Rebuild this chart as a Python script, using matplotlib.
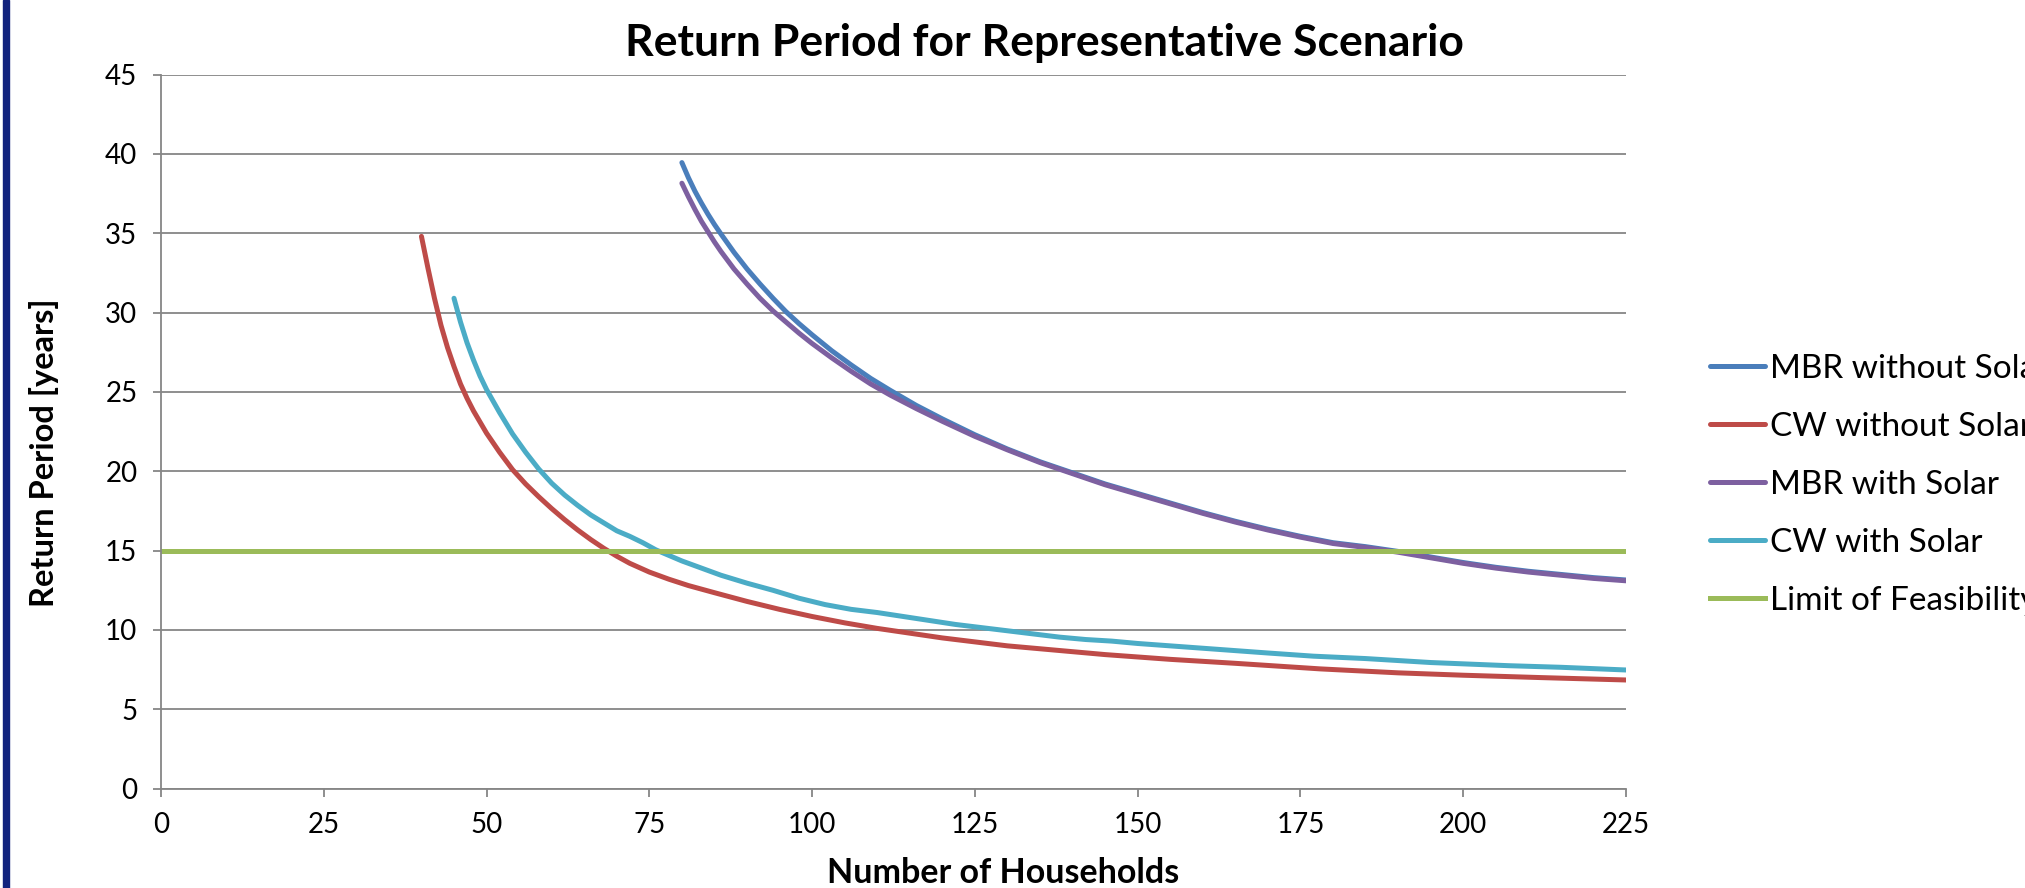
import matplotlib
matplotlib.use("Agg")
import matplotlib.pyplot as plt
from matplotlib.patches import Rectangle

plt.rcParams['font.family'] = ['Lato', 'DejaVu Sans']

# Return period [years] vs number of households
mbr_x = [80, 81, 82, 83, 84, 85, 86, 88, 90, 92, 94, 96, 98, 100, 103, 106, 109, 112, 116, 120,
         125, 130, 135, 140, 145, 150, 155, 160, 165, 170, 175, 180, 185, 190, 195, 200, 205, 210,
         215, 220, 225]
mbr_no_solar = [39.45, 38.5, 37.65, 36.9, 36.2, 35.55, 34.95, 33.8, 32.75, 31.8, 30.9, 30.05, 29.3,
                28.6, 27.6, 26.7, 25.85, 25.1, 24.15, 23.3, 22.3, 21.4, 20.6, 19.9, 19.2, 18.6, 18.0,
                17.4, 16.85, 16.35, 15.9, 15.5, 15.25, 14.95, 14.6, 14.25, 13.95, 13.7, 13.5, 13.3,
                13.15]
mbr_solar = [38.15, 37.3, 36.5, 35.75, 35.1, 34.45, 33.85, 32.75, 31.8, 30.9, 30.1, 29.4, 28.7,
             28.05, 27.15, 26.3, 25.5, 24.8, 23.95, 23.15, 22.2, 21.35, 20.55, 19.85, 19.15, 18.55,
             17.95, 17.35, 16.8, 16.3, 15.85, 15.45, 15.2, 14.9, 14.55, 14.2, 13.9, 13.65, 13.45,
             13.25, 13.1]

cw_x = [40, 41, 42, 43, 44, 45, 46, 47, 48, 50, 52, 54, 56, 58, 60, 62, 64, 66, 68, 70, 72, 75, 78,
        81, 85, 90, 95, 100, 105, 110, 115, 120, 125, 130, 136, 145, 155, 165, 178, 190, 200, 212, 225]
cw_no_solar = [34.8, 32.8, 30.9, 29.2, 27.8, 26.6, 25.5, 24.6, 23.8, 22.4, 21.2, 20.1, 19.2, 18.4,
               17.65, 16.95, 16.3, 15.7, 15.15, 14.65, 14.2, 13.65, 13.2, 12.8, 12.35, 11.8, 11.3,
               10.85, 10.45, 10.1, 9.8, 9.5, 9.25, 9.0, 8.78, 8.45, 8.15, 7.9, 7.55, 7.3, 7.15, 7.0,
               6.85]

cws_x = [45, 46, 47, 48, 49, 50, 52, 54, 56, 58, 60, 62, 64, 66, 68, 70, 72, 74, 76, 78, 80, 83, 86,
         90, 94, 98, 102, 106, 110, 114, 118, 122, 126, 130, 134, 138, 142, 146, 150, 160, 170, 177,
         185, 195, 207, 215, 225]
cw_solar = [30.9, 29.4, 28.1, 27.0, 26.0, 25.15, 23.7, 22.35, 21.2, 20.15, 19.25, 18.5, 17.85, 17.25,
            16.75, 16.25, 15.9, 15.5, 15.05, 14.7, 14.35, 13.9, 13.45, 12.95, 12.5, 12.0, 11.6, 11.3,
            11.1, 10.85, 10.6, 10.35, 10.15, 9.95, 9.75, 9.55, 9.4, 9.3, 9.15, 8.85, 8.55, 8.35, 8.2,
            7.95, 7.75, 7.65, 7.48]

limit_x = [0, 225]
limit_y = [15, 15]

labels = ["MBR without Solar", "CW without Solar", "MBR with Solar", "CW with Solar", "Limit of Feasibility"]
colors = ["#4a7ebb", "#be4b48", "#7d60a0", "#4bacc6", "#9bbb59"]

W, H = 2025, 888
fig = plt.figure(figsize=(W / 100, H / 100), dpi=100)
fig.patches.append(Rectangle((3 / W, 0), 6 / W, 1, transform=fig.transFigure,
                             color="#12237d", zorder=0))

ax = fig.add_axes([161 / W, 1 - 788.7 / H, (1626 - 161) / W, (788.7 - 74.5) / H])
grey = "#868686"
lw = 3.6
ax.plot(mbr_x, mbr_no_solar, color=colors[0], lw=lw, solid_capstyle="round",
        solid_joinstyle="round", label=labels[0])
ax.plot(cw_x, cw_no_solar, color=colors[1], lw=lw, solid_capstyle="round",
        solid_joinstyle="round", label=labels[1])
ax.plot(mbr_x, mbr_solar, color=colors[2], lw=lw, solid_capstyle="round",
        solid_joinstyle="round", label=labels[2])
ax.plot(cws_x, cw_solar, color=colors[3], lw=lw, solid_capstyle="round",
        solid_joinstyle="round", label=labels[3])
ax.plot(limit_x, limit_y, color=colors[4], lw=lw, label=labels[4])

ax.set_xlim(0, 225)
ax.set_ylim(0, 45)
ax.set_xticks(range(0, 226, 25))
ax.set_yticks(range(0, 46, 5))
ax.grid(axis="y", color=grey, lw=1.3, zorder=0)
ax.set_axisbelow(True)
for s in ["top", "right"]:
    ax.spines[s].set_visible(False)
for s in ["left", "bottom"]:
    ax.spines[s].set_color(grey)
    ax.spines[s].set_linewidth(1.3)
ax.tick_params(axis="both", colors=grey, length=6, width=1.3, labelcolor="black", labelsize=20)
ax.tick_params(axis="y", pad=11)
ax.tick_params(axis="x", pad=11)

fig.text(1044 / W, 1 - 43 / H, "Return Period for Representative Scenario", ha="center", va="center",
         fontsize=32, fontweight="bold")
fig.text(1003 / W, 1 - 873 / H, "Number of Households", ha="center", va="center",
         fontsize=24.5, fontweight="bold")
fig.text(44 / W, 1 - 453 / H, "Return Period [years]", ha="center", va="center",
         rotation=90, fontsize=23.5, fontweight="bold")

# legend runs past the right edge of the figure, as in the original layout
fig.legend(loc="upper left", bbox_to_anchor=(1710 / W, 1 - 354 / H), frameon=False,
           fontsize=24, handlelength=1.65, handletextpad=0.15, labelspacing=0.84,
           borderpad=0, borderaxespad=0)

fig.savefig("out.png", dpi=100)
